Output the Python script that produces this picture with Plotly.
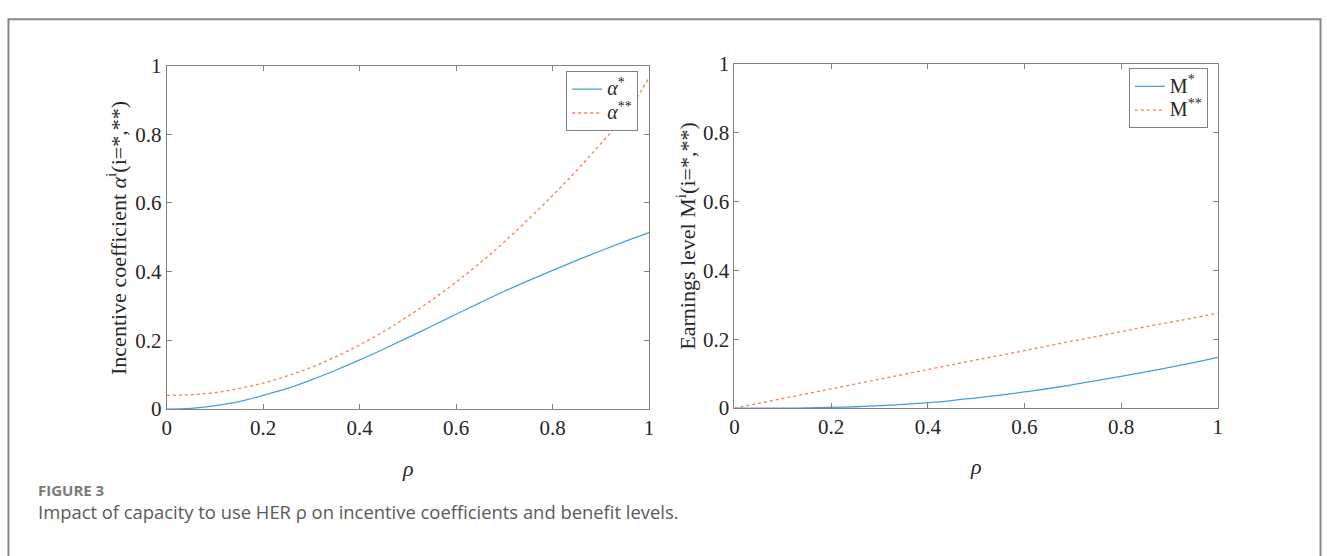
import plotly.graph_objects as go

W, H = 1327, 556

rho = [0.0, 0.05, 0.1, 0.15, 0.2, 0.25, 0.3, 0.35, 0.4, 0.45, 0.5,
       0.55, 0.6, 0.65, 0.7, 0.75, 0.8, 0.85, 0.9, 0.95, 1.0]
alpha_star = [0.0, 0.002, 0.01, 0.022, 0.04, 0.06, 0.085, 0.113, 0.143, 0.175, 0.208,
              0.242, 0.276, 0.31, 0.343, 0.374, 0.404, 0.433, 0.461, 0.488, 0.514]
alpha_2star = [0.04, 0.042, 0.048, 0.06, 0.076, 0.097, 0.122, 0.152, 0.187, 0.226, 0.27,
               0.318, 0.37, 0.426, 0.487, 0.553, 0.622, 0.695, 0.773, 0.855, 0.965]
M_star = [0.0, 0.0, 0.0, 0.0005, 0.002, 0.004, 0.007, 0.011, 0.016, 0.022, 0.03,
          0.038, 0.047, 0.057, 0.068, 0.08, 0.092, 0.105, 0.118, 0.132, 0.147]
M_2star = [0.0, 0.014, 0.028, 0.042, 0.056, 0.07, 0.084, 0.098, 0.112, 0.126, 0.14,
           0.153, 0.167, 0.181, 0.195, 0.208, 0.222, 0.236, 0.249, 0.262, 0.276]

tickvals = [0, 0.2, 0.4, 0.6, 0.8, 1]
ticktext = ["0", "0.2", "0.4", "0.6", "0.8", "1"]
legend_names = ["<i>α</i><sup>*</sup>", "<i>α</i><sup>**</sup>", "M<sup>*</sup>", "M<sup>**</sup>"]

BLUE = "#4a9fd8"
ORANGE = "#ef8354"
AX = "#808080"
SERIF = "Liberation Serif"
TXT = "#262626"


def big(s):
    return '<span style="font-size:20px">' + s + '</span>'


fig = go.Figure()
fig.add_trace(go.Scatter(x=rho, y=alpha_star, mode="lines", line=dict(color=BLUE, width=1.3, shape="spline"),
                         name=big(legend_names[0]), xaxis="x", yaxis="y", legend="legend"))
fig.add_trace(go.Scatter(x=rho, y=alpha_2star, mode="lines", line=dict(color=ORANGE, width=1.3, dash="dot", shape="spline"),
                         name=big(legend_names[1]), xaxis="x", yaxis="y", legend="legend"))
fig.add_trace(go.Scatter(x=rho, y=M_star, mode="lines", line=dict(color=BLUE, width=1.3, shape="spline"),
                         name=big(legend_names[2]), xaxis="x2", yaxis="y2", legend="legend2"))
fig.add_trace(go.Scatter(x=rho, y=M_2star, mode="lines", line=dict(color=ORANGE, width=1.3, dash="dot", shape="spline"),
                         name=big(legend_names[3]), xaxis="x2", yaxis="y2", legend="legend2"))


def px(x):
    return x / W


def py(y):
    return (H - y) / H


def axis(domain, anchor):
    return dict(domain=domain, anchor=anchor, range=[0, 1], tickvals=tickvals, ticktext=ticktext,
                showgrid=False, zeroline=False, showline=True, linecolor=AX, linewidth=1,
                mirror="ticks", ticks="inside", ticklen=5, tickcolor=AX,
                tickfont=dict(family=SERIF, size=21, color=TXT))


legfont = dict(family=SERIF, size=16, color=TXT)

fig.update_layout(
    width=W, height=H, margin=dict(l=0, r=0, t=0, b=0),
    paper_bgcolor="white", plot_bgcolor="white", showlegend=True,
    xaxis=axis([px(163), px(649)], "y"),
    yaxis=axis([py(415), py(56)], "x"),
    xaxis2=axis([px(735), px(1222)], "y2"),
    yaxis2=axis([py(414), py(54)], "x2"),
    legend=dict(x=px(638), y=py(62), xanchor="right", yanchor="top", bgcolor="white",
                bordercolor=AX, borderwidth=1, font=legfont, tracegroupgap=0, itemwidth=30),
    legend2=dict(x=px(1212), y=py(59), xanchor="right", yanchor="top", bgcolor="white",
                 bordercolor=AX, borderwidth=1, font=legfont, tracegroupgap=0, itemwidth=30),
)

ann = [
    dict(x=px(112), y=py(236), text="Incentive coefficient <i>α</i><sup>i</sup>(i=*,**)", textangle=-90,
         font=dict(family=SERIF, size=22, color=TXT)),
    dict(x=px(686), y=py(234), text="Earnings level M<sup>i</sup>(i=*,**)", textangle=-90,
         font=dict(family=SERIF, size=22, color=TXT)),
    dict(x=px(406), y=py(477), text="<i>ρ</i>", font=dict(family=SERIF, size=22, color=TXT)),
    dict(x=px(978), y=py(475), text="<i>ρ</i>", font=dict(family=SERIF, size=22, color=TXT)),
    dict(x=px(31), y=py(500), text="<b>FIGURE 3</b>", xanchor="left",
         font=dict(family="Open Sans", size=15, color="#7a7a7a")),
    dict(x=px(31), y=py(522), text="Impact of capacity to use HER ρ on incentive coefficients and benefit levels.",
         xanchor="left", font=dict(family="Open Sans", size=18.4, color="#5a5a5a")),
]
for a in ann:
    a.update(xref="paper", yref="paper", showarrow=False)
    if "xanchor" not in a:
        a["xanchor"] = "center"
    a["yanchor"] = "middle"
fig.update_layout(annotations=ann)

fig.add_shape(type="rect", xref="paper", yref="paper", x0=px(3.5), x1=px(1325.5), y0=-0.1, y1=py(7.5),
              line=dict(color="#888888", width=2), fillcolor="rgba(0,0,0,0)", layer="above")

fig.write_html("out.html")
